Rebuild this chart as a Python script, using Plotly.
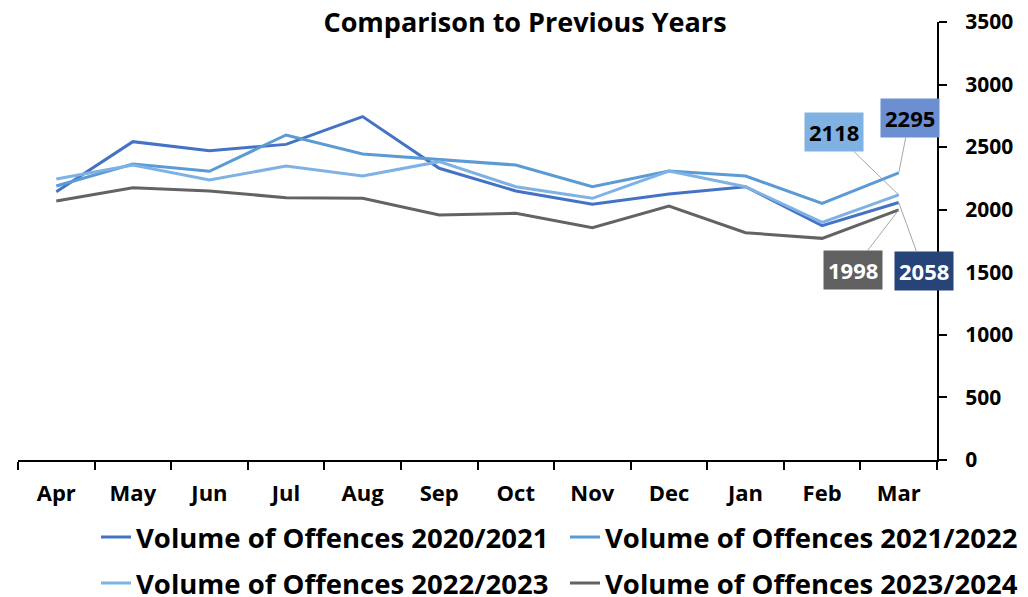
import plotly.graph_objects as go

months = ["Apr", "May", "Jun", "Jul", "Aug", "Sep", "Oct", "Nov", "Dec", "Jan", "Feb", "Mar"]
v2020 = [2144, 2544, 2472, 2522, 2744, 2331, 2150, 2043, 2126, 2184, 1872, 2058]
v2021 = [2190, 2365, 2307, 2597, 2445, 2403, 2357, 2184, 2309, 2269, 2051, 2295]
v2022 = [2245, 2357, 2238, 2349, 2269, 2384, 2184, 2091, 2309, 2184, 1899, 2118]
v2023 = [2070, 2176, 2150, 2096, 2091, 1958, 1971, 1856, 2030, 1816, 1771, 1998]

names = ["Volume of Offences 2020/2021", "Volume of Offences 2021/2022",
         "Volume of Offences 2022/2023", "Volume of Offences 2023/2024"]
colors = ["#4472C4", "#5B9BD5", "#7EB2E4", "#636363"]
series = [v2020, v2021, v2022, v2023]
legends = ["legend2", "legend3", "legend4", "legend5"]

FONT = "Open Sans"
W, H = 1020, 589  # page has an 8px body margin
fig = go.Figure()
for n, c, s, lg in zip(names, colors, series, legends):
    fig.add_trace(go.Scatter(x=months, y=s, name=n, mode="lines",
                             line=dict(color=c, width=3), legend=lg))

# data labels for last point
labels = [
    (v2021[-1], 11, -55, "#6B8FD0", "black"),
    (v2022[-1], -65, -63, "#7FB2E2", "black"),
    (v2023[-1], -46, 60, "#606060", "white"),
    (v2020[-1], 25, 69, "#264478", "white"),
]
for val, ax, ay, bg, fc in labels:
    fig.add_annotation(x=months[-1], y=val, text=f"<b>{val}</b>", ax=ax, ay=ay,
                       showarrow=True, arrowhead=0, arrowwidth=1, arrowcolor="#A6A6A6",
                       bgcolor=bg, borderpad=4, font=dict(family=FONT, size=22, color=fc))

leg_common = dict(orientation="h", font=dict(family=FONT, size=27.5, color="black", weight="bold"),
                  xanchor="left", yanchor="middle", bgcolor="rgba(0,0,0,0)",
                  xref="container", yref="container", borderwidth=0)
col_x = [88 / W, 557 / W]
row_y = [(H - 529) / H, (H - 575) / H]
fig.update_layout(
    width=W, height=H,
    showlegend=True,
    margin=dict(l=10, r=91, t=14, b=137, autoexpand=False),
    plot_bgcolor="white", paper_bgcolor="white",
    title=dict(text="<b>Comparison to Previous Years</b>", x=517 / W, xanchor="center",
               y=1 - 15 / H, yanchor="middle", yref="container", xref="container",
               font=dict(family=FONT, size=27, color="black")),
    legend=dict(visible=False),
    legend2=dict(x=col_x[0], y=row_y[0], **leg_common),
    legend3=dict(x=col_x[1], y=row_y[0], **leg_common),
    legend4=dict(x=col_x[0], y=row_y[1], **leg_common),
    legend5=dict(x=col_x[1], y=row_y[1], **leg_common),
    xaxis=dict(range=[-0.5, 11.5], showline=True, linecolor="black", linewidth=2,
               ticks="outside", ticklen=8, tickwidth=2, tickcolor="black",
               tickson="boundaries", showgrid=False, automargin=False,
               tickfont=dict(family=FONT, size=22, color="black", weight="bold"),
               ticklabelstandoff=13, ticklabeloverflow="allow"),
    yaxis=dict(side="right", range=[0, 3500], dtick=500, showline=True, linecolor="black",
               linewidth=2, ticks="outside", ticklen=8, tickwidth=2, tickcolor="black",
               showgrid=False, zeroline=False, automargin=False,
               tickfont=dict(family=FONT, size=21, color="black", weight="bold"),
               ticklabelstandoff=14, ticklabeloverflow="allow"),
)
fig.write_html("out.html")
